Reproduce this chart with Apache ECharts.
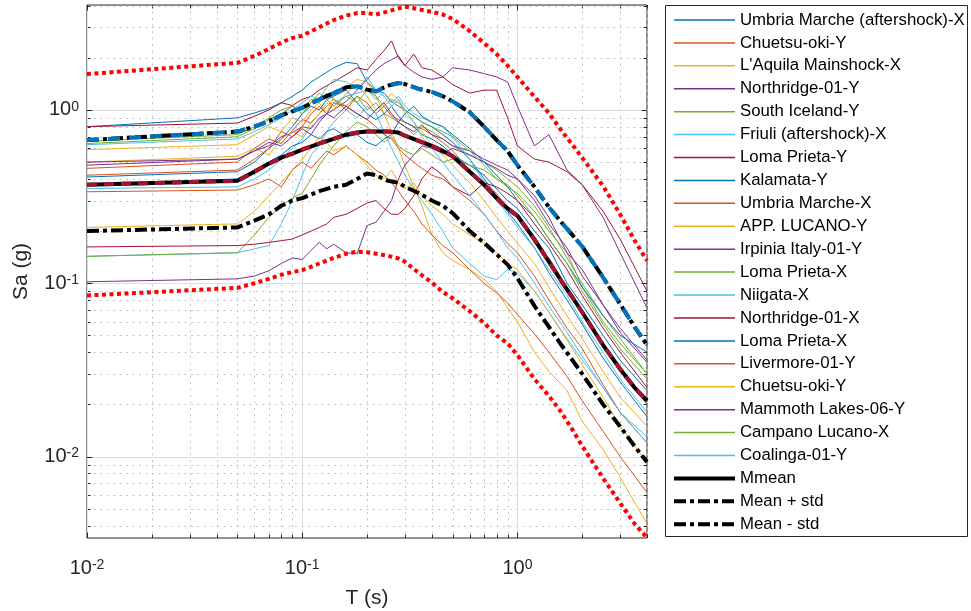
<!DOCTYPE html>
<html>
<head>
<meta charset="utf-8">
<script src="https://cdn.jsdelivr.net/npm/echarts/dist/echarts.min.js"></script>
<style>html,body{margin:0;padding:0;background:#fff}#chart{width:971px;height:611px}</style>
</head>
<body>
<div id="chart"></div>
<script>
// ---------------- DATA ----------------
// Periods (s) for the individual record spectra
const T_REC = [0.01, 0.05, 0.06, 0.07, 0.08, 0.09, 0.10, 0.11, 0.12, 0.13, 0.14, 0.16, 0.18, 0.20, 0.22, 0.24, 0.26, 0.28, 0.30, 0.33, 0.36, 0.40, 0.45, 0.50, 0.60, 0.70, 0.80, 0.90, 1.0, 1.2, 1.4, 1.7, 2.0, 2.5, 3.0, 4.0];

const umbriaAftX  = [0.80, 0.90, 0.96, 1.02, 1.10, 1.20, 1.30, 1.45, 1.55, 1.65, 1.75, 1.88, 1.85, 1.45, 1.30, 1.25, 1.12, 1.05, 1.00, 0.92, 0.85, 0.80, 0.72, 0.65, 0.52, 0.40, 0.32, 0.26, 0.22, 0.16, 0.115, 0.080, 0.058, 0.037, 0.027, 0.017];
const chuetsuY    = [0.46, 0.50, 0.60, 0.68, 0.64, 0.76, 0.88, 0.84, 0.95, 1.05, 1.15, 1.00, 1.20, 1.10, 0.95, 1.05, 0.92, 0.88, 0.85, 0.80, 0.78, 0.72, 0.65, 0.58, 0.45, 0.38, 0.33, 0.27, 0.25, 0.17, 0.14, 0.095, 0.066, 0.045, 0.031, 0.020];
const aquilaX     = [0.59, 0.63, 0.72, 0.80, 0.75, 0.90, 0.85, 1.00, 1.10, 0.95, 1.20, 1.35, 1.50, 1.45, 1.20, 0.95, 0.75, 0.60, 0.48, 0.36, 0.28, 0.19, 0.15, 0.135, 0.12, 0.105, 0.09, 0.072, 0.060, 0.040, 0.031, 0.024, 0.016, 0.011, 0.0076, 0.0041];
const northridgeY = [0.48, 0.52, 0.58, 0.62, 0.70, 0.74, 0.80, 0.78, 0.90, 0.95, 1.00, 1.12, 1.30, 1.50, 1.70, 1.85, 1.95, 2.05, 1.80, 1.65, 1.55, 1.50, 1.55, 1.75, 1.70, 1.62, 1.55, 1.45, 1.05, 0.62, 0.72, 0.45, 0.37, 0.24, 0.15, 0.072];
const icelandY    = [0.64, 0.70, 0.78, 0.88, 0.95, 1.05, 1.00, 1.15, 1.10, 1.25, 1.15, 1.05, 1.20, 1.00, 1.10, 0.95, 0.90, 0.85, 0.80, 0.72, 0.80, 0.75, 0.68, 0.62, 0.55, 0.50, 0.45, 0.40, 0.36, 0.28, 0.21, 0.14, 0.10, 0.065, 0.048, 0.030];
const friuliX     = [0.143, 0.150, 0.158, 0.165, 0.22, 0.30, 0.42, 0.55, 0.62, 0.75, 0.85, 1.00, 0.90, 1.05, 0.95, 0.75, 0.60, 0.50, 0.42, 0.35, 0.30, 0.25, 0.20, 0.16, 0.13, 0.11, 0.105, 0.12, 0.115, 0.09, 0.068, 0.048, 0.036, 0.025, 0.018, 0.013];
const lomaY       = [0.80, 0.84, 0.92, 1.00, 1.10, 1.06, 1.15, 1.20, 1.30, 1.38, 1.45, 1.60, 1.75, 1.70, 1.95, 2.20, 2.50, 2.00, 1.80, 2.10, 1.75, 1.70, 1.55, 1.40, 1.25, 1.30, 1.30, 0.90, 0.62, 0.52, 0.50, 0.44, 0.37, 0.26, 0.18, 0.090];
const kalamataY   = [0.41, 0.44, 0.50, 0.60, 0.68, 0.80, 0.95, 1.05, 1.00, 1.15, 1.20, 1.30, 1.10, 0.95, 0.88, 0.95, 1.05, 0.92, 0.85, 0.80, 0.72, 0.68, 0.62, 0.55, 0.48, 0.42, 0.35, 0.30, 0.27, 0.20, 0.16, 0.10, 0.075, 0.050, 0.036, 0.024];
const umbriaX     = [0.337, 0.345, 0.37, 0.40, 0.36, 0.45, 0.50, 0.46, 0.52, 0.58, 0.55, 0.62, 0.55, 0.50, 0.45, 0.42, 0.38, 0.34, 0.30, 0.26, 0.22, 0.19, 0.165, 0.15, 0.12, 0.10, 0.088, 0.077, 0.066, 0.051, 0.040, 0.029, 0.021, 0.014, 0.010, 0.0062];
const lucanoY     = [0.50, 0.54, 0.60, 0.55, 0.68, 0.75, 0.70, 0.85, 0.95, 1.10, 1.00, 1.25, 1.40, 1.20, 1.00, 1.10, 1.25, 1.15, 0.95, 0.85, 0.75, 0.62, 0.55, 0.48, 0.38, 0.30, 0.24, 0.20, 0.17, 0.13, 0.095, 0.065, 0.048, 0.031, 0.022, 0.015];
const irpiniaY    = [0.102, 0.106, 0.110, 0.118, 0.130, 0.140, 0.137, 0.155, 0.172, 0.158, 0.168, 0.150, 0.148, 0.215, 0.225, 0.26, 0.30, 0.40, 0.48, 0.55, 0.62, 0.60, 0.56, 0.60, 0.55, 0.50, 0.46, 0.42, 0.40, 0.30, 0.22, 0.16, 0.11, 0.075, 0.055, 0.036];
const lomaX       = [0.143, 0.150, 0.19, 0.24, 0.28, 0.31, 0.33, 0.40, 0.48, 0.55, 0.62, 0.75, 0.85, 0.80, 0.72, 0.65, 0.70, 0.62, 0.58, 0.55, 0.60, 0.55, 0.50, 0.52, 0.48, 0.45, 0.40, 0.36, 0.33, 0.26, 0.20, 0.15, 0.095, 0.060, 0.045, 0.030];
const niigataX    = [0.352, 0.36, 0.40, 0.45, 0.52, 0.60, 0.68, 0.80, 0.88, 0.95, 1.10, 1.20, 1.25, 1.30, 1.15, 1.25, 1.10, 1.20, 1.05, 0.95, 0.90, 0.85, 0.80, 0.70, 0.52, 0.38, 0.30, 0.25, 0.21, 0.16, 0.12, 0.085, 0.060, 0.040, 0.028, 0.018];
const northridgeX = [0.162, 0.165, 0.168, 0.172, 0.176, 0.18, 0.19, 0.20, 0.21, 0.22, 0.24, 0.25, 0.27, 0.29, 0.30, 0.27, 0.25, 0.25, 0.27, 0.32, 0.40, 0.47, 0.42, 0.36, 0.32, 0.38, 0.36, 0.33, 0.30, 0.22, 0.17, 0.12, 0.085, 0.055, 0.040, 0.025];
const lomaX2      = [0.37, 0.40, 0.45, 0.50, 0.55, 0.62, 0.65, 0.72, 0.68, 0.75, 0.78, 0.70, 0.72, 0.65, 0.62, 0.68, 0.72, 0.85, 0.95, 1.05, 0.92, 0.85, 0.80, 0.72, 0.60, 0.50, 0.42, 0.36, 0.30, 0.24, 0.18, 0.13, 0.095, 0.065, 0.050, 0.040];
const livermoreY  = [0.42, 0.45, 0.52, 0.60, 0.75, 0.70, 0.80, 0.95, 1.05, 0.95, 1.10, 1.05, 0.95, 0.88, 0.80, 0.72, 0.68, 0.60, 0.55, 0.50, 0.46, 0.42, 0.40, 0.36, 0.30, 0.25, 0.20, 0.17, 0.15, 0.11, 0.08, 0.055, 0.042, 0.026, 0.018, 0.012];
const chuetsuY2   = [0.21, 0.22, 0.26, 0.32, 0.38, 0.45, 0.52, 0.60, 0.70, 0.65, 0.58, 0.62, 0.55, 0.48, 0.42, 0.40, 0.45, 0.38, 0.35, 0.38, 0.32, 0.28, 0.25, 0.22, 0.19, 0.17, 0.15, 0.13, 0.12, 0.09, 0.068, 0.047, 0.034, 0.022, 0.015, 0.0092];
const mammothY    = [0.50, 0.52, 0.58, 0.65, 0.62, 0.70, 0.78, 0.72, 0.85, 0.95, 0.90, 1.05, 0.95, 0.88, 1.00, 1.10, 0.95, 0.85, 0.80, 0.75, 0.82, 0.72, 0.68, 0.62, 0.58, 0.52, 0.48, 0.45, 0.40, 0.32, 0.24, 0.15, 0.12, 0.075, 0.052, 0.035];
const campanoX    = [0.66, 0.72, 0.80, 0.90, 1.00, 1.05, 0.95, 1.10, 1.25, 1.15, 1.05, 1.20, 1.10, 1.30, 1.20, 1.05, 1.15, 1.10, 1.00, 0.92, 0.85, 0.80, 0.75, 0.70, 0.58, 0.48, 0.40, 0.37, 0.32, 0.24, 0.18, 0.13, 0.09, 0.058, 0.042, 0.028];
const coalingaY   = [0.63, 0.68, 0.75, 0.82, 0.90, 1.00, 1.10, 1.20, 1.15, 1.35, 1.50, 1.45, 1.30, 1.55, 1.30, 1.20, 1.05, 1.15, 1.00, 0.85, 0.70, 0.60, 0.50, 0.42, 0.32, 0.25, 0.20, 0.16, 0.14, 0.10, 0.074, 0.052, 0.038, 0.025, 0.018, 0.012];

const RECORD_NAMES = ['Umbria Marche (aftershock)-X', 'Chuetsu-oki-Y', "L'Aquila Mainshock-X", 'Northridge-01-Y', 'South Iceland-Y', 'Friuli (aftershock)-X', 'Loma Prieta-Y', 'Kalamata-Y', 'Umbria Marche-X', 'APP. LUCANO-Y', 'Irpinia Italy-01-Y', 'Loma Prieta-X', 'Niigata-X', 'Northridge-01-X', 'Loma Prieta-X', 'Livermore-01-Y', 'Chuetsu-oki-Y', 'Mammoth Lakes-06-Y', 'Campano Lucano-X', 'Coalinga-01-Y'];
const RECORD_VALUES = [umbriaAftX, chuetsuY, aquilaX, northridgeY, icelandY, friuliX, lomaY, kalamataY, umbriaX, lucanoY, irpiniaY, lomaX, niigataX, northridgeX, lomaX2, livermoreY, chuetsuY2, mammothY, campanoX, coalingaY];

// Statistics
const T_STAT = [0.01, 0.05, 0.06, 0.07, 0.08, 0.09, 0.1, 0.12, 0.14, 0.16, 0.18, 0.2, 0.22, 0.25, 0.28, 0.3, 0.35, 0.4, 0.45, 0.5, 0.6, 0.7, 0.8, 0.9, 1.0, 1.2, 1.4, 1.6, 1.8, 2.0, 2.5, 3.0, 3.5, 4.0];
const MEAN       = [0.37, 0.39, 0.44, 0.49, 0.53, 0.56, 0.59, 0.64, 0.68, 0.72, 0.74, 0.75, 0.75, 0.75, 0.74, 0.71, 0.66, 0.62, 0.58, 0.54, 0.44, 0.37, 0.31, 0.27, 0.245, 0.179, 0.133, 0.103, 0.083, 0.068, 0.044, 0.032, 0.025, 0.021];
const MEAN_PLUS  = [0.67, 0.75, 0.80, 0.86, 0.93, 0.98, 1.03, 1.15, 1.25, 1.35, 1.37, 1.31, 1.28, 1.38, 1.43, 1.41, 1.32, 1.27, 1.20, 1.12, 0.97, 0.80, 0.67, 0.58, 0.48, 0.36, 0.275, 0.225, 0.19, 0.163, 0.108, 0.076, 0.056, 0.044];
const MEAN_MINUS = [0.20, 0.21, 0.23, 0.25, 0.28, 0.30, 0.31, 0.34, 0.36, 0.37, 0.40, 0.43, 0.42, 0.39, 0.38, 0.36, 0.33, 0.30, 0.28, 0.254, 0.20, 0.171, 0.147, 0.128, 0.107, 0.074, 0.056, 0.044, 0.036, 0.030, 0.020, 0.0149, 0.0115, 0.0093];
const ENV_UP     = [1.61, 1.87, 2.05, 2.25, 2.45, 2.60, 2.68, 3.00, 3.30, 3.50, 3.62, 3.62, 3.55, 3.70, 3.85, 3.95, 3.80, 3.68, 3.55, 3.35, 2.85, 2.43, 2.10, 1.80, 1.55, 1.19, 0.96, 0.76, 0.63, 0.53, 0.364, 0.25, 0.177, 0.135];
const ENV_LO     = [0.085, 0.094, 0.100, 0.106, 0.112, 0.116, 0.119, 0.130, 0.140, 0.148, 0.152, 0.151, 0.148, 0.144, 0.139, 0.133, 0.114, 0.101, 0.089, 0.082, 0.069, 0.059, 0.050, 0.045, 0.0385, 0.028, 0.0224, 0.018, 0.0143, 0.0115, 0.0075, 0.0054, 0.0041, 0.0034];

// Axis ticks
const X_MAJOR = [0.01, 0.1, 1];
const X_MINOR = [0.02, 0.03, 0.04, 0.05, 0.06, 0.07, 0.08, 0.09, 0.2, 0.3, 0.4, 0.5, 0.6, 0.7, 0.8, 0.9, 2, 3, 4];
const Y_MAJOR = [0.01, 0.1, 1];
const Y_MINOR = [0.004, 0.005, 0.006, 0.007, 0.008, 0.009, 0.02, 0.03, 0.04, 0.05, 0.06, 0.07, 0.08, 0.09, 0.2, 0.3, 0.4, 0.5, 0.6, 0.7, 0.8, 0.9, 2, 3, 4];
const X_RANGE = [0.01, 4];
const Y_RANGE = [0.00339, 4.03];

// ---------------- CHART ----------------
const FONT = '"Liberation Sans", Arial, Helvetica, sans-serif';
const AX = '#262626';
const COLORS = ['#0072BD', '#D95319', '#EDB120', '#7E2F8E', '#77AC30', '#4DBEEE', '#A2142F'];

const seen = {};
const recKeys = RECORD_NAMES.map(n => { seen[n] = (seen[n] || 0) + 1; return seen[n] > 1 ? n + '#' + seen[n] : n; });

function pairs(xs, ys) { return xs.map((x, i) => [x, ys[i]]); }

function powLabel(v) {
  const l = Math.log10(v), r = Math.round(l);
  if (Math.abs(l - r) > 1e-6) return '';
  return '{b|10}{s|' + r + '}';
}
const richLbl = {
  b: { fontSize: 20, fontFamily: FONT, color: AX, lineHeight: 20, verticalAlign: 'bottom' },
  s: { fontSize: 14, fontFamily: FONT, color: AX, lineHeight: 14, verticalAlign: 'top' }
};

function gridItem(params, api) {
  const cs = params.coordSys;
  const L = cs.x, R = cs.x + cs.width, T = cs.y, B = cs.y + cs.height;
  const kids = [];
  const seg = (x1, y1, x2, y2, style) => kids.push({ type: 'line', shape: { x1, y1, x2, y2 }, style: style, silent: true });
  const minorGrid = { stroke: '#c4c4c4', lineWidth: 1, lineDash: [2, 4.5] };
  const majorGrid = { stroke: '#dedede', lineWidth: 1 };
  const tick = { stroke: AX, lineWidth: 1 };
  const MIN_LEN = 3.5, MAJ_LEN = 5.5;
  const xs = (v) => Math.round(api.coord([v, 0.1])[0]) + 0.5;
  const ys = (v) => Math.round(api.coord([0.1, v])[1]) + 0.5;
  X_MINOR.forEach(v => { const x = xs(v); seg(x, T, x, B, minorGrid); seg(x, B, x, B - MIN_LEN, tick); seg(x, T, x, T + MIN_LEN, tick); });
  Y_MINOR.forEach(v => { const y = ys(v); seg(L, y, R, y, minorGrid); seg(L, y, L + MIN_LEN, y, tick); seg(R, y, R - MIN_LEN, y, tick); });
  X_MAJOR.forEach(v => { const x = xs(v); seg(x, T, x, B, majorGrid); seg(x, B, x, B - MAJ_LEN, tick); seg(x, T, x, T + MAJ_LEN, tick); });
  Y_MAJOR.forEach(v => { const y = ys(v); seg(L, y, R, y, majorGrid); seg(L, y, L + MAJ_LEN, y, tick); seg(R, y, R - MAJ_LEN, y, tick); });
  return { type: 'group', children: kids };
}

const series = [{
  type: 'custom', coordinateSystem: 'cartesian2d', silent: true, z: 1,
  data: [[0.1, 0.1]], renderItem: gridItem, animation: false
}];

recKeys.forEach((k, i) => {
  const c = COLORS[i % COLORS.length];
  series.push({
    type: 'line', name: k, data: pairs(T_REC, RECORD_VALUES[i]), symbol: 'none', silent: true, z: 2,
    lineStyle: { color: c, width: 1 }, itemStyle: { color: c }
  });
});

function statLine(name, ys, color, width, type) {
  return {
    type: 'line', name: name, data: pairs(T_STAT, ys), symbol: 'none', silent: true, z: 2,
    lineStyle: { color: color, width: width, type: type, cap: 'butt' }, itemStyle: { color: color }
  };
}
series.push(statLine('Mmean', MEAN, '#000000', 4, 'solid'));
series.push(statLine('meanOverlay', MEAN, '#A2142F', 4, [10, 7]));
series.push(statLine('Mean + std', MEAN_PLUS, '#000000', 4, [12, 4, 4, 4]));
series.push(statLine('plusOverlay', MEAN_PLUS, '#0072BD', 4, [12, 9]));
series.push(statLine('Mean - std', MEAN_MINUS, '#000000', 4, [12, 4, 4, 4]));
series.push(statLine('envUp', ENV_UP, '#FF0000', 4, [4, 3.5]));
series.push(statLine('envLo', ENV_LO, '#FF0000', 4, [4, 3.5]));

const legendData = recKeys.map(k => ({ name: k, lineStyle: { width: 1.5 } }))
  .concat(['Mmean', 'Mean + std', 'Mean - std'].map(k => ({ name: k })));

const chart = echarts.init(document.getElementById('chart'), null, { renderer: 'canvas' });
chart.setOption({
  animation: false,
  backgroundColor: '#ffffff',
  grid: { left: 87, right: 324, top: 5, bottom: 73, show: true, borderColor: AX, borderWidth: 1, backgroundColor: '#ffffff', containLabel: false, outerBoundsMode: 'none' },
  xAxis: {
    type: 'log', logBase: 10, min: X_RANGE[0], max: X_RANGE[1],
    name: 'T (s)', nameLocation: 'middle', nameGap: 50, nameMoveOverlap: false,
    nameTextStyle: { fontSize: 21, color: AX, fontFamily: FONT },
    axisLine: { show: false }, axisTick: { show: false }, splitLine: { show: false }, minorTick: { show: false },
    axisLabel: { formatter: powLabel, rich: richLbl, margin: 20, showMinLabel: true, showMaxLabel: true, color: AX, fontFamily: FONT, fontSize: 20 }
  },
  yAxis: {
    type: 'log', logBase: 10, min: Y_RANGE[0], max: Y_RANGE[1],
    name: 'Sa (g)', nameLocation: 'middle', nameGap: 55, nameMoveOverlap: false,
    nameTextStyle: { fontSize: 21, color: AX, fontFamily: FONT },
    axisLine: { show: false }, axisTick: { show: false }, splitLine: { show: false }, minorTick: { show: false },
    axisLabel: { formatter: powLabel, rich: richLbl, margin: 8, showMinLabel: true, showMaxLabel: true, color: AX, fontFamily: FONT, fontSize: 20 }
  },
  legend: {
    data: legendData,
    orient: 'vertical', left: 672, top: 11.5, padding: 0, z: 10,
    itemWidth: 61, itemHeight: 14, itemGap: 5.92, selectedMode: false,
    itemStyle: { opacity: 0 },
    lineStyle: { width: 'inherit' },
    formatter: (n) => n.replace(/#\d+$/, ''),
    textStyle: { fontSize: 16.8, lineHeight: 17, color: '#000', fontFamily: FONT }
  },
  graphic: [{
    type: 'rect', z: 0, silent: true,
    shape: { x: 665.5, y: 5.5, width: 302, height: 531 },
    style: { fill: '#ffffff', stroke: AX, lineWidth: 1 }
  }],
  series: series
});
</script>
</body>
</html>
